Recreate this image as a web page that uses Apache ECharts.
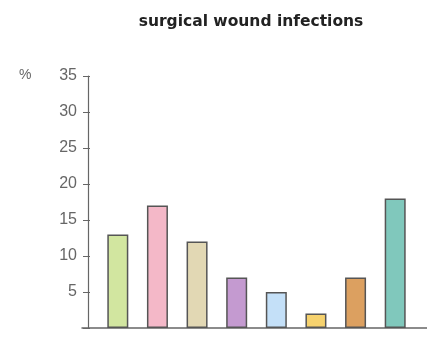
<!DOCTYPE html>
<html>
<head>
<meta charset="utf-8">
<script src="https://cdn.jsdelivr.net/npm/echarts@6/dist/echarts.min.js"></script>
<style>
  html, body { margin: 0; padding: 0; background: #fff; }
  #chart { width: 427px; height: 342px; }
</style>
</head>
<body>
<div id="chart"></div>
<script>
// Surgical wound infection rates, one bar per group
const categories = ['A', 'B', 'C', 'D', 'E', 'F', 'G', 'H'];
const infectionRates = [13, 17, 12, 7, 5, 2, 7, 18];
const barColors = ['#d2e6a0', '#f4b8c8', '#e2d8b4', '#c49ad0', '#c4e0f8', '#f6d26e', '#dca060', '#80c8bc'];
const yTicks = [0, 5, 10, 15, 20, 25, 30, 35];

const yMax = yTicks[yTicks.length - 1];
const yStep = yTicks[1] - yTicks[0];
const axisColor = '#666';
const labelColor = '#666';

const chart = echarts.init(document.getElementById('chart'));
chart.setOption({
  animation: false,
  title: {
    text: 'surgical wound infections',
    left: 246,
    textAlign: 'center',
    top: 9,
    textStyle: { fontFamily: 'DejaVu Sans', fontWeight: 'bold', fontSize: 15.5, color: '#222' }
  },
  graphic: [{
    type: 'text',
    left: 19,
    top: 68,
    style: { text: '%', fontFamily: 'Liberation Sans', fontSize: 14, fill: labelColor }
  }],
  grid: [
    // frame grid: carries the drawn axes
    { left: 82, right: 0, top: 76, bottom: 14 },
    // bar grid: inset band for the eight categories
    { left: 98, right: 12, top: 76, bottom: 14 }
  ],
  xAxis: [
    {
      gridIndex: 0, type: 'value', min: 0, max: 1,
      axisLine: { show: true, lineStyle: { color: axisColor, width: 1.5 } },
      axisTick: { show: false }, axisLabel: { show: false }, splitLine: { show: false }
    },
    {
      gridIndex: 1, type: 'category', data: categories,
      axisLine: { show: false }, axisTick: { show: false }, axisLabel: { show: false }
    }
  ],
  yAxis: [
    {
      gridIndex: 0, type: 'value', position: 'left', min: 0, max: yMax, interval: yStep, offset: -6,
      axisLine: { show: true, lineStyle: { color: axisColor, width: 1.2 } },
      axisTick: { show: true, length: 5, lineStyle: { color: axisColor } },
      axisLabel: {
        margin: 11, fontFamily: 'Liberation Sans', fontSize: 16, color: labelColor,
        formatter: v => (v === 0 ? '' : String(v))
      },
      splitLine: { show: false }
    },
    {
      gridIndex: 0, type: 'value', position: 'left', min: 0, max: yMax, interval: yStep, offset: -6,
      axisLine: { show: false },
      axisTick: { show: true, inside: true, length: 2, lineStyle: { color: axisColor } },
      axisLabel: { show: false }, splitLine: { show: false }
    },
    {
      gridIndex: 1, type: 'value', min: 0, max: yMax, interval: yStep, show: false
    }
  ],
  series: [{
    type: 'bar',
    xAxisIndex: 1,
    yAxisIndex: 2,
    barWidth: 21,
    data: infectionRates.map((v, i) => ({
      value: v,
      itemStyle: { color: barColors[i], borderColor: '#555', borderWidth: 1.5 }
    }))
  }]
});
</script>
</body>
</html>
